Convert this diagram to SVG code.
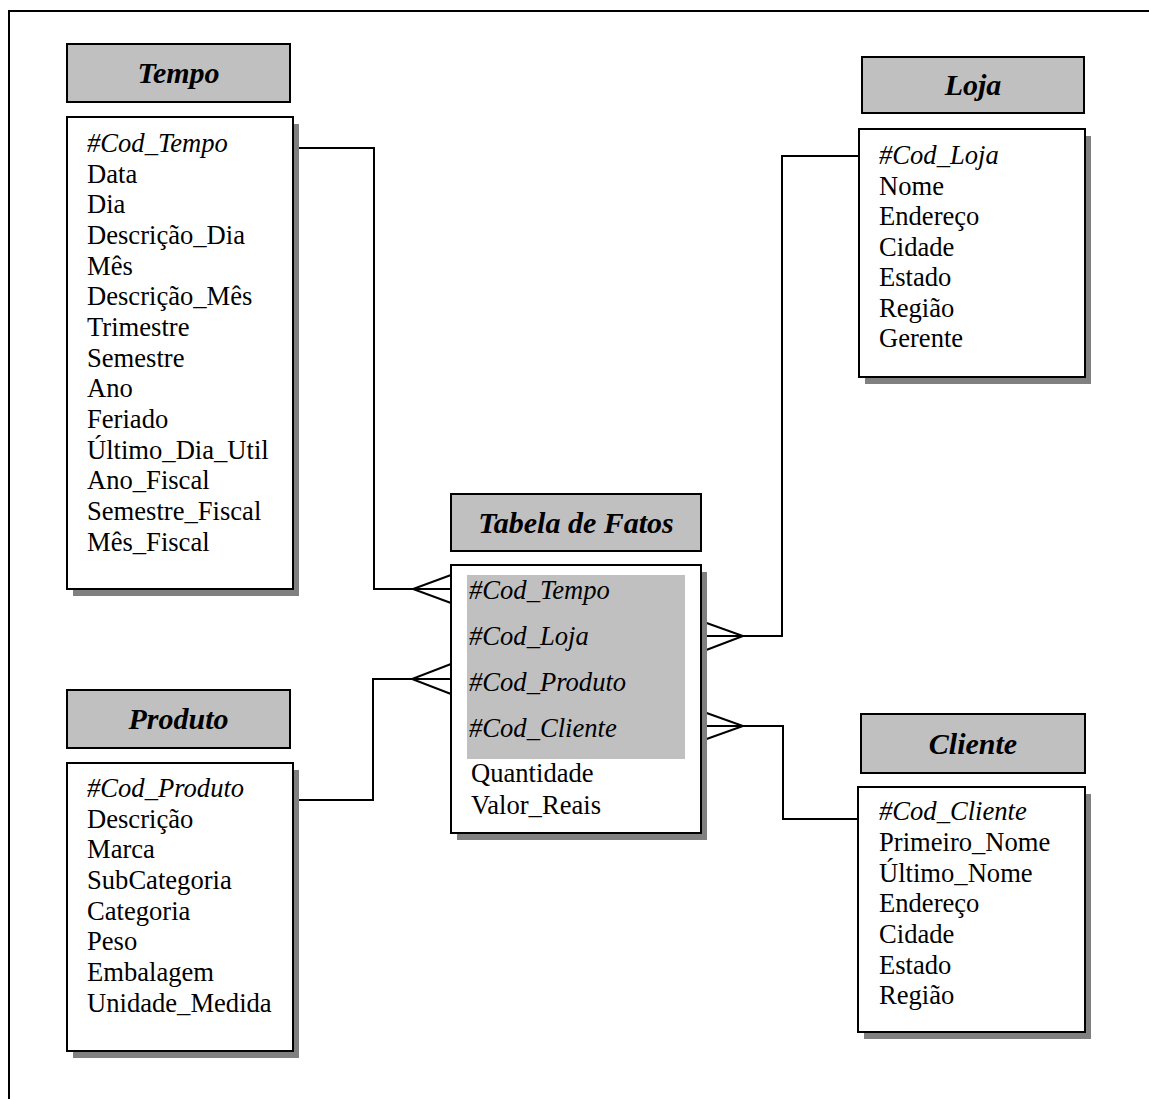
<svg xmlns="http://www.w3.org/2000/svg" width="1149" height="1099" viewBox="0 0 1149 1099" font-family="'Liberation Serif', 'Times New Roman', Tinos, 'DejaVu Serif', serif">
  <style>
    .hdr { fill: #c0c0c0; stroke: #000; stroke-width: 2; }
    .body { fill: #fff; stroke: #000; stroke-width: 2; }
    .shadow { fill: #808080; }
    .title { font-size: 30px; font-weight: bold; font-style: italic; text-anchor: middle; fill: #000; }
    .attr { font-size: 26.6px; fill: #000; }
    .key { font-style: italic; }
    .line { fill: none; stroke: #000; stroke-width: 2; }
  </style>

  <!-- page frame -->
  <path class="line" d="M9,1099 V11 H1149"/>

  <!-- connectors -->
  <g id="connectors">
    <!-- Tempo to fact table -->
    <path class="line" d="M293,148 H374 V589 H413"/>
    <path class="line" d="M451,575 L413,589 L451,603 M413,589 H451"/>
    <!-- Produto to fact table -->
    <path class="line" d="M293,800 H373 V679 H412"/>
    <path class="line" d="M451,664 L412,679 L451,694 M412,679 H451"/>
    <!-- fact table to Loja -->
    <path class="line" d="M743,636 H782 V156 H859"/>
    <path class="line" d="M701,621 L743,636 L701,652 M701,636 H743"/>
    <!-- fact table to Cliente -->
    <path class="line" d="M743,726 H783 V819 H858"/>
    <path class="line" d="M701,711 L743,726 L701,741 M701,726 H743"/>
  </g>

  <!-- Tempo dimension -->
  <g id="tempo">
    <rect class="hdr" x="67" y="44" width="223" height="58"/>
    <text class="title" x="178.5" y="83">Tempo</text>
    <rect class="shadow" x="73" y="124" width="226" height="472"/>
    <rect class="body" x="67" y="117" width="226" height="472"/>
    <g class="attr">
      <text x="87" y="152" class="key">#Cod_Tempo</text>
      <text x="87" y="182.5">Data</text>
      <text x="87" y="213">Dia</text>
      <text x="87" y="244">Descrição_Dia</text>
      <text x="87" y="274.5">Mês</text>
      <text x="87" y="305">Descrição_Mês</text>
      <text x="87" y="336">Trimestre</text>
      <text x="87" y="366.5">Semestre</text>
      <text x="87" y="397">Ano</text>
      <text x="87" y="428">Feriado</text>
      <text x="87" y="458.5">Último_Dia_Util</text>
      <text x="87" y="489">Ano_Fiscal</text>
      <text x="87" y="520">Semestre_Fiscal</text>
      <text x="87" y="550.5">Mês_Fiscal</text>
    </g>
  </g>

  <!-- Loja dimension -->
  <g id="loja">
    <rect class="hdr" x="862" y="57" width="222" height="56"/>
    <text class="title" x="973" y="95">Loja</text>
    <rect class="shadow" x="865" y="136" width="226" height="248"/>
    <rect class="body" x="859" y="129" width="226" height="248"/>
    <g class="attr">
      <text x="879" y="164" class="key">#Cod_Loja</text>
      <text x="879" y="194.5">Nome</text>
      <text x="879" y="225">Endereço</text>
      <text x="879" y="255.5">Cidade</text>
      <text x="879" y="286">Estado</text>
      <text x="879" y="316.5">Região</text>
      <text x="879" y="347">Gerente</text>
    </g>
  </g>

  <!-- fact table -->
  <g id="tabela-de-fatos">
    <rect class="hdr" x="451" y="494" width="250" height="57"/>
    <text class="title" x="576" y="533">Tabela de Fatos</text>
    <rect class="shadow" x="457" y="572" width="250" height="268"/>
    <rect class="body" x="451" y="565" width="250" height="268"/>
    <rect x="467" y="575" width="218" height="184" fill="#c0c0c0"/>
    <g class="attr">
      <text x="469" y="599" class="key">#Cod_Tempo</text>
      <text x="469" y="645" class="key">#Cod_Loja</text>
      <text x="469" y="691" class="key">#Cod_Produto</text>
      <text x="469" y="737" class="key">#Cod_Cliente</text>
      <text x="471" y="782">Quantidade</text>
      <text x="471" y="814">Valor_Reais</text>
    </g>
  </g>

  <!-- Produto dimension -->
  <g id="produto">
    <rect class="hdr" x="67" y="690" width="223" height="58"/>
    <text class="title" x="178.5" y="729">Produto</text>
    <rect class="shadow" x="73" y="770" width="226" height="288"/>
    <rect class="body" x="67" y="763" width="226" height="288"/>
    <g class="attr">
      <text x="87" y="797" class="key">#Cod_Produto</text>
      <text x="87" y="827.5">Descrição</text>
      <text x="87" y="858">Marca</text>
      <text x="87" y="889">SubCategoria</text>
      <text x="87" y="919.5">Categoria</text>
      <text x="87" y="950">Peso</text>
      <text x="87" y="981">Embalagem</text>
      <text x="87" y="1011.5">Unidade_Medida</text>
    </g>
  </g>

  <!-- Cliente dimension -->
  <g id="cliente">
    <rect class="hdr" x="861" y="714" width="224" height="59"/>
    <text class="title" x="973" y="754">Cliente</text>
    <rect class="shadow" x="864" y="794" width="227" height="245"/>
    <rect class="body" x="858" y="787" width="227" height="245"/>
    <g class="attr">
      <text x="879" y="820" class="key">#Cod_Cliente</text>
      <text x="879" y="851">Primeiro_Nome</text>
      <text x="879" y="882">Último_Nome</text>
      <text x="879" y="912">Endereço</text>
      <text x="879" y="943">Cidade</text>
      <text x="879" y="974">Estado</text>
      <text x="879" y="1004">Região</text>
    </g>
  </g>
</svg>
